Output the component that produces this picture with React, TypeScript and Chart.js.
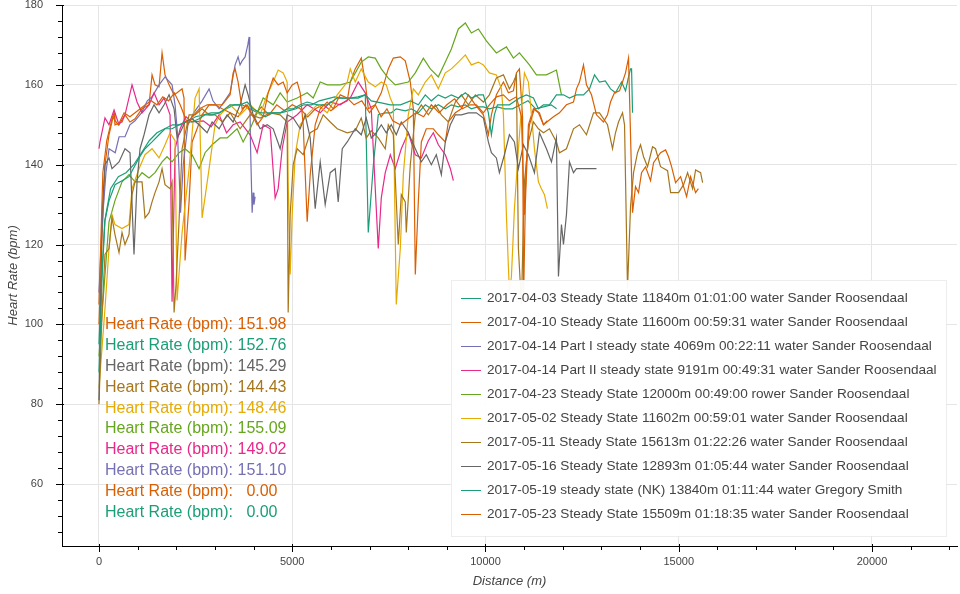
import React, { useEffect, useRef } from 'react';
import { Chart, registerables } from 'chart.js';

Chart.register(...registerables);

// ---------- data ----------
const seriesLabels = [
  '2017-04-03 Steady State 11840m 01:01:00 water Sander Roosendaal',
  '2017-04-10 Steady State 11600m 00:59:31 water Sander Roosendaal',
  '2017-04-14 Part I steady state 4069m 00:22:11 water Sander Roosendaal',
  '2017-04-14 Part II steady state 9191m 00:49:31 water Sander Roosendaal',
  '2017-04-23 Steady State 12000m 00:49:00 rower Sander Roosendaal',
  '2017-05-02 Steady State 11602m 00:59:01 water Sander Roosendaal',
  '2017-05-11 Steady State 15613m 01:22:26 water Sander Roosendaal',
  '2017-05-16 Steady State 12893m 01:05:44 water Sander Roosendaal',
  '2017-05-19 steady state (NK) 13840m 01:11:44 water Gregory Smith',
  '2017-05-23 Steady State 15509m 01:18:35 water Sander Roosendaal',
];

const seriesColors = ['#1b9e77', '#d95f02', '#7570b3', '#e7298a', '#66a61e', '#e6ab02', '#a6761d', '#666666', '#1b9e77', '#d95f02'];

const avgHeartRate = [0.0, 0.0, 151.1, 149.02, 155.09, 148.46, 144.43, 145.29, 152.76, 151.98];

const xMajorTicks = [0, 5000, 10000, 15000, 20000];
const yMajorTicks = [60, 80, 100, 120, 140, 160, 180];

type P = [number, number];

const s1: P[] = [[0,95],[60,110],[150,126],[300,134],[500,137],[700,138],[900,140],[1100,143],[1300,146],[1500,148],[1700,149],[1900,150],[2100,150],[2300,151],[2500,152],[2700,152.5],[2900,153],[3100,153],[3300,154],[3500,155],[3700,155],[3900,154],[4100,153],[4300,152],[4500,153],[4700,153],[4900,153.5],[5100,154],[5300,155],[5500,155],[5700,156],[5900,156.5],[6100,157],[6300,156.7],[6500,156.7],[6700,157],[6890,157.5],[6967,123],[7100,140],[7226,152.5],[7407,153],[7563,153],[7692,154],[7925,153.5],[8081,154],[8262,153],[8443,155],[8599,154],[8780,155],[8961,154],[9117,155],[9300,154.5],[9479,155],[9635,154],[9800,154.5],[9950,154.5],[10100,154],[10300,154.5],[10500,154],[10700,154],[10900,155],[11100,156],[11300,154],[11500,154.5],[11700,155],[11840,154]];

const s2: P[] = [[0,100],[80,122],[155,140],[259,147.5],[389,153],[414,150],[596,150.7],[673,152.5],[803,150.7],[932,151.5],[1114,154],[1295,155],[1373,162.5],[1450,160],[1554,159.5],[1632,168],[1709,162.5],[1813,160],[1943,157.5],[2020,158],[2150,159],[2200,156.7],[2227,116],[2331,130.7],[2409,145.7],[2538,149],[2668,152.5],[2849,155],[3004,155],[3186,154],[3393,153],[3600,152],[3800,155],[4000,152],[4200,154.5],[4400,152.5],[4600,155],[4800,153.5],[5000,155],[5206,154],[5400,152],[5600,154],[5800,155],[6000,153.5],[6200,155],[6423,156],[6501,160.7],[6630,164],[6786,166.7],[6889,160.7],[6967,154],[7148,155],[7304,158],[7485,164],[7615,166.7],[7796,167],[7925,166],[8055,160.7],[8133,154],[8184,112.5],[8262,130.7],[8340,145.7],[8469,149],[8651,149],[8780,147.5],[8961,145.7],[9039,150.7],[9220,153],[9376,154],[9557,157.5],[9738,155],[9946,152.5],[10075,147.5],[10153,152.5],[10282,157.5],[10464,160.7],[10593,158],[10723,158.5],[10800,163],[10878,164],[10960,152],[10985,106],[11030,130],[11111,150],[11241,154],[11370,153],[11500,150],[11600,151]];

const s3: P[] = [[0,108],[80,125],[180,138],[260,144],[420,143],[520,147],[673,147],[800,150],[932,151],[1100,153],[1250,156],[1373,157],[1554,160],[1709,162],[1800,161],[1891,160],[1968,155],[2030,148],[2072,138],[2110,128],[2180,140],[2300,150],[2450,153],[2668,156],[2849,159],[2950,156],[3108,154],[3250,156],[3393,158],[3522,165],[3600,167],[3650,165],[3704,166],[3781,167],[3850,170],[3885,172],[3900,160],[3920,145],[3963,128],[3989,133],[4010,130],[4040,132]];

const s4: P[] = [[0,144],[26,145.7],[155,151.7],[259,150],[389,153.7],[518,150],[673,152.5],[855,160],[984,155.7],[1114,153],[1295,155],[1425,158],[1554,155],[1684,156.7],[1839,152.5],[1891,105.7],[1968,144],[2100,149],[2250,152],[2409,150.7],[2700,151],[2900,149.5],[3108,152.5],[3300,148],[3471,150],[3652,150.7],[3911,147.5],[4092,143],[4248,150],[4429,149],[4558,131.7],[4636,134],[4740,144],[4869,150.7],[5128,152.5],[5387,155],[5724,153],[5983,155.7],[6242,155],[6501,156.7],[6708,160.7],[6889,158],[7045,154],[7226,119],[7304,131.7],[7407,138],[7537,142.5],[7666,139],[7822,144],[8003,148],[8184,142.5],[8340,141.7],[8521,146],[8651,148],[8780,145],[8961,142.5],[9091,139],[9169,136]];

const s5: P[] = [[0,92],[78,102.5],[259,125.7],[414,131],[596,135.7],[777,137.5],[932,135.7],[1114,138],[1295,136.7],[1450,138],[1632,140.7],[1761,142],[1891,140.7],[2072,143],[2227,144],[2409,142.5],[2590,139],[2745,143],[2927,145],[3134,146.7],[3315,146.7],[3574,149],[3730,145.7],[3911,149],[4092,153],[4248,156.7],[4507,155],[4688,158],[4869,155.7],[5128,156.7],[5387,158],[5543,156.7],[5724,160.7],[5905,160],[6242,160],[6501,160.7],[6786,165.7],[6967,167],[7148,166.7],[7304,164],[7485,161.7],[7666,160],[8003,160.7],[8184,163],[8392,166.7],[8573,164],[8780,162],[8961,165.7],[9117,169],[9298,174],[9479,175.5],[9635,173],[9816,174],[10023,171],[10282,168],[10541,169.5],[10723,166.7],[10878,168],[11137,165],[11318,162.5],[11577,162.5],[11836,163.7],[11966,157.5]];

const s6: P[] = [[0,84],[155,104],[259,119],[337,127.5],[414,125],[596,124],[777,125],[855,134],[1036,139],[1191,142.5],[1373,144],[1554,141.7],[1709,145],[1839,148],[1968,146],[2020,106],[2150,123],[2331,139],[2486,156.7],[2590,159],[2668,126.7],[2849,139],[3004,150],[3134,152.5],[3393,155],[3652,152.5],[3911,155],[4170,152.5],[4351,157.5],[4507,160.7],[4636,163.7],[4766,163],[4869,160.7],[4895,135.7],[4947,112.5],[4999,127.5],[5076,142.5],[5206,150],[5387,152.5],[5646,155],[5905,153],[6164,157.5],[6423,160.7],[6501,164],[6630,160.7],[6786,164],[6967,160.7],[7148,159.5],[7304,160.7],[7433,160],[7537,156.7],[7615,155],[7692,105],[7796,119],[7874,137.5],[8003,152.5],[8133,159],[8262,157.5],[8443,160.7],[8599,162.5],[8780,159],[8961,163],[9117,164],[9298,165.7],[9479,167.5],[9635,165],[9816,165.7],[9946,165],[10101,163],[10282,162.5],[10412,159],[10464,152.5],[10541,127.5],[10619,108],[10671,112],[10749,129],[10852,144],[10930,154],[11008,163],[11111,160.7],[11189,152.5],[11267,144],[11370,135.7],[11448,134],[11526,132.5],[11603,129]];

const s7: P[] = [[0,80],[50,95],[78,102.5],[155,117.5],[259,119],[337,126.7],[414,122.5],[518,118],[596,123],[673,120],[777,122.5],[855,132.5],[932,135.7],[1114,135.7],[1191,126.7],[1295,128],[1373,130.7],[1450,133],[1554,135.7],[1632,139],[1709,135],[1839,134],[1891,135.7],[1943,103],[1994,110],[2072,126],[2150,144],[2331,152.5],[2486,152.5],[2668,154],[2849,152.5],[3004,152.5],[3186,150.7],[3393,153],[3652,149],[3911,152.5],[4170,151.7],[4429,153],[4688,152.5],[4869,150.7],[4895,103],[4947,127.5],[5025,140],[5128,144],[5284,142.5],[5465,148],[5646,149],[5802,152.5],[5983,150.7],[6164,149],[6423,148],[6630,148.5],[6786,151.7],[6915,146.7],[7045,148.5],[7226,146.7],[7407,144],[7485,150],[7615,147.5],[7744,120],[7822,132.5],[7925,130.7],[7951,123],[8055,140],[8184,152.5],[8340,155],[8521,152.5],[8702,155],[8858,152.5],[9039,150.7],[9220,155.7],[9376,157.5],[9557,155],[9738,157.5],[9946,155.7],[10101,157.5],[10282,161.7],[10464,162.5],[10619,159],[10723,160.7],[10800,162.5],[10852,119],[10930,105],[11008,135.7],[11111,145.7],[11241,150.7],[11370,149],[11500,148],[11655,149],[11836,145.7],[11914,143],[12095,144],[12277,149],[12432,150],[12613,147.5],[12795,153],[12950,153],[13157,150],[13287,144],[13364,148],[13442,150.7],[13546,153],[13598,150],[13675,109],[13753,129.5],[13831,138],[13934,143],[14012,145],[14090,142],[14193,139.5],[14323,144.5],[14400,144],[14530,139.5],[14711,138.5],[14790,133],[14996,133],[15126,135],[15229,138],[15358,134],[15436,138.7],[15566,138],[15618,135.5]];

const s8: P[] = [[0,81],[26,95],[78,127.5],[155,140],[259,141.7],[337,139],[518,140.7],[673,144],[803,143],[906,117.5],[984,135.7],[1062,144],[1166,147.5],[1295,152.5],[1425,155],[1554,153],[1684,155],[1813,157.5],[1943,154],[2020,146.7],[2098,148],[2227,150.7],[2409,151.5],[2590,150],[2797,148],[2927,150.7],[3108,149],[3315,152.5],[3471,150.7],[3652,155],[3781,160],[3859,157.5],[3989,152.5],[4170,149],[4351,150],[4507,149],[4688,144],[4869,152.5],[5025,151.7],[5206,149],[5335,152.5],[5465,146.7],[5594,129],[5724,140.7],[5853,130],[5983,138],[6112,139],[6190,130.7],[6294,144],[6423,145.7],[6630,149],[6786,147.5],[6915,151.7],[7045,146.7],[7174,148],[7304,150],[7433,148],[7563,150],[7692,147.5],[7822,150.7],[8003,148],[8184,144],[8340,140.7],[8469,142.5],[8599,140],[8728,142.5],[8858,137.5],[8961,145.7],[9091,150],[9220,152.5],[9376,152.5],[9557,153],[9764,153],[9946,151.7],[10075,145.7],[10153,143],[10282,141.7],[10360,138],[10490,142.5],[10619,147.5],[10749,145.7],[10852,139],[10982,145],[11111,142.5],[11267,138],[11396,148],[11577,144],[11707,140.7],[11836,146.7],[11888,112],[11966,125],[12018,120],[12095,127.5],[12173,140.7],[12277,138],[12354,139],[12872,139]];

const s9: P[] = [[0,88],[80,112],[155,126],[260,131],[414,135],[596,136],[777,137],[1036,141.7],[1191,144],[1373,145.7],[1554,147.5],[1709,149],[1891,149],[2072,150],[2227,150.7],[2409,150.7],[2590,151.5],[2745,152.5],[2927,152.5],[3134,153],[3393,155],[3652,155],[3833,155.7],[3989,154],[4170,153],[4429,153],[4688,153],[4869,154],[5025,154],[5206,155],[5387,155.7],[5646,155],[5905,155],[6164,156.7],[6500,156.7],[6708,156.7],[6889,157.5],[7045,156],[7304,155.5],[7537,155],[7800,155],[8055,156],[8262,155],[8443,157.5],[8599,156],[8780,157.5],[8961,156.7],[9117,157.5],[9298,156.7],[9479,158],[9635,156.7],[9816,157.5],[9946,157.5],[10075,153],[10153,147.5],[10230,152.5],[10309,155],[10619,155],[10878,156.7],[11059,157.5],[11241,156.7],[11370,154],[11500,155],[11655,155],[11836,157.5],[12018,157.5],[12173,156.7],[12354,157.5],[12536,157.5],[12691,159],[12821,162.5],[12950,160.7],[13100,161],[13236,159],[13364,158],[13520,160.7],[13624,158.5],[13701,162],[13753,164],[13780,164],[13805,153]];

const s10: P[] = [[0,105],[100,138],[200,146],[350,152],[500,150],[650,153],[800,152],[1000,153.5],[1200,155],[1350,156],[1500,155],[1650,157],[1800,156],[1950,158],[2100,155],[2300,150],[2409,152],[2600,154],[2800,155],[3000,155],[3186,155],[3393,157.5],[3471,163],[3522,164],[3600,160.7],[3704,154],[3833,155],[3963,152.5],[4092,150],[4248,152],[4377,158],[4507,161.7],[4636,160],[4766,160.7],[4869,158],[4999,160],[5128,160.7],[5206,158],[5284,150],[5387,125.7],[5465,137.5],[5594,150],[5724,154],[5905,155.7],[6061,154],[6242,157.5],[6423,156.7],[6600,155],[6800,156],[7000,153],[7150,155],[7300,152],[7450,154],[7600,151],[7800,150],[8000,151.5],[8200,153],[8400,152],[8600,155],[8800,153],[9000,155],[9200,156.5],[9400,154],[9600,155],[9764,155],[9946,153],[10101,155],[10282,157],[10464,157.5],[10619,156],[10800,157],[10930,152],[11008,127.5],[11060,140.7],[11137,150],[11267,154],[11396,153],[11500,150],[11629,151],[11759,152],[11914,153],[12095,155],[12277,155.7],[12354,159],[12432,160.7],[12536,165],[12613,160],[12743,157.5],[12872,152.5],[13053,150.7],[13157,152.5],[13235,155.7],[13338,158],[13468,158.5],[13546,160.7],[13623,163],[13701,166.7],[13805,128],[13882,134.5],[13960,133],[14038,138],[14142,139.5],[14271,136],[14349,140.5],[14530,143],[14660,143.7],[14737,142],[14815,139.5],[14918,135.5],[15048,137],[15126,134.5],[15204,132],[15307,137],[15436,133],[15509,134]];

const seriesData: P[][] = [s1, s2, s3, s4, s5, s6, s7, s8, s9, s10];

// ---------- styling ----------
const FONT = "'Liberation Sans', Arial, Helvetica, sans-serif";
const X_MIN = -957;
const X_MAX = 22200;
const Y_MIN = 44.5;
const Y_MAX = 180;

const tickMarksPlugin = {
  id: 'tickMarks',
  afterDraw(chart: any) {
    const { ctx, chartArea } = chart;
    const xs = chart.scales.x;
    const ys = chart.scales.y;
    ctx.save();
    ctx.strokeStyle = '#000';
    ctx.lineWidth = 1;
    ctx.beginPath();
    for (const t of xs.ticks) {
      const px = Math.round(xs.getPixelForValue(t.value)) + 0.5;
      const major = xMajorTicks.includes(t.value);
      const b = chartArea.bottom;
      ctx.moveTo(px, major ? b - 2 : b);
      ctx.lineTo(px, major ? b + 6 : b + 4);
    }
    for (const t of ys.ticks) {
      const py = Math.round(ys.getPixelForValue(t.value)) + 0.5;
      const major = yMajorTicks.includes(t.value);
      const l = chartArea.left;
      ctx.moveTo(major ? l + 2 : l, py);
      ctx.lineTo(major ? l - 6 : l - 4, py);
    }
    ctx.stroke();
    ctx.restore();
  },
};

const overlayPlugin = {
  id: 'overlay',
  afterDraw(chart: any) {
    const { ctx, chartArea } = chart;
    ctx.save();
    // average labels (reverse series order)
    ctx.font = `16px ${FONT}`;
    ctx.textBaseline = 'middle';
    ctx.textAlign = 'left';
    const n = avgHeartRate.length;
    for (let k = 0; k < n; k++) {
      const i = n - 1 - k;
      ctx.fillStyle = seriesColors[i];
      const txt = 'Heart Rate (bpm): ' + avgHeartRate[i].toFixed(2).padStart(6, ' ');
      ctx.fillText(txt, chartArea.left + 43, chartArea.top + 320 + k * 20.8);
    }
    // legend
    ctx.font = `13.6px ${FONT}`;
    const maxW = Math.max(...seriesLabels.map((l) => ctx.measureText(l).width));
    const rowH = 24;
    const boxW = 10 + 20 + 5 + maxW + 10;
    const boxH = 16 + rowH * seriesLabels.length;
    const right = chartArea.right - 11;
    const bottom = chartArea.bottom - 10;
    const left = Math.round(right - boxW);
    const top = Math.round(bottom - boxH);
    ctx.fillStyle = 'rgba(255,255,255,0.95)';
    ctx.fillRect(left, top, right - left, bottom - top);
    ctx.strokeStyle = 'rgba(229,229,229,0.7)';
    ctx.lineWidth = 1;
    ctx.strokeRect(left + 0.5, top + 0.5, right - left, bottom - top);
    seriesLabels.forEach((label, i) => {
      const y = top + 18 + i * rowH;
      ctx.strokeStyle = seriesColors[i];
      ctx.lineWidth = 1;
      ctx.beginPath();
      ctx.moveTo(left + 10, Math.round(y) + 0.5);
      ctx.lineTo(left + 30, Math.round(y) + 0.5);
      ctx.stroke();
      ctx.fillStyle = '#444444';
      ctx.fillText(label, left + 36, y);
    });
    ctx.restore();
  },
};

export default function App() {
  const canvasRef = useRef<HTMLCanvasElement | null>(null);

  useEffect(() => {
    if (!canvasRef.current) return;
    const n = seriesData.length;
    const chart = new Chart(canvasRef.current, {
      type: 'line',
      data: {
        datasets: seriesData.map((s, i) => ({
          label: seriesLabels[i],
          data: s.map(([x, y]) => ({ x, y })),
          borderColor: seriesColors[i],
          backgroundColor: seriesColors[i],
          borderWidth: 1.2,
          pointRadius: 0,
          tension: 0,
          fill: false,
          order: n - i,
        })),
      },
      options: {
        animation: false,
        responsive: false,
        maintainAspectRatio: false,
        events: [],
        layout: { padding: { top: 5, right: 3, left: 0, bottom: 0 } },
        plugins: { legend: { display: false }, tooltip: { enabled: false } },
        scales: {
          x: {
            type: 'linear',
            min: X_MIN,
            max: X_MAX,
            afterFit: (s: any) => {
              s.height = 48;
              s.paddingLeft = 0;
              s.paddingRight = 0;
            },
            afterBuildTicks: (s: any) => {
              const t = [];
              for (let v = Math.ceil(X_MIN / 1000) * 1000; v <= X_MAX; v += 1000) t.push({ value: v === 0 ? 0 : v });
              s.ticks = t;
            },
            grid: {
              drawTicks: false,
              color: (c: any) => (c.tick && xMajorTicks.includes(c.tick.value) ? '#e5e5e5' : 'rgba(0,0,0,0)'),
              lineWidth: 1,
            },
            border: { display: true, color: '#000', width: 1 },
            ticks: {
              autoSkip: false,
              maxRotation: 0,
              minRotation: 0,
              padding: 9,
              color: '#444444',
              font: { family: FONT, size: 11 },
              callback: (v: any) => (xMajorTicks.includes(v) ? String(v) : ''),
            },
            title: {
              display: true,
              text: 'Distance (m)',
              color: '#444444',
              font: { family: FONT, size: 13, style: 'italic' },
              padding: { top: 0, bottom: 5 },
            },
          },
          y: {
            type: 'linear',
            min: Y_MIN,
            max: Y_MAX,
            afterFit: (s: any) => {
              s.width = 62;
              s.paddingTop = 0;
              s.paddingBottom = 0;
            },
            afterBuildTicks: (s: any) => {
              const t = [];
              for (let v = Math.ceil(Y_MIN / 4) * 4; v <= Y_MAX; v += 4) t.push({ value: v });
              s.ticks = t;
            },
            grid: {
              drawTicks: false,
              color: (c: any) => (c.tick && yMajorTicks.includes(c.tick.value) ? '#e5e5e5' : 'rgba(0,0,0,0)'),
              lineWidth: 1,
            },
            border: { display: true, color: '#000', width: 1 },
            ticks: {
              autoSkip: false,
              padding: 19,
              color: '#444444',
              font: { family: FONT, size: 11 },
              callback: (v: any) => (yMajorTicks.includes(v) ? String(v) : ''),
            },
            title: {
              display: true,
              text: 'Heart Rate (bpm)',
              color: '#444444',
              font: { family: FONT, size: 13, style: 'italic' },
              padding: { top: 6, bottom: 0 },
            },
          },
        },
      },
      plugins: [tickMarksPlugin, overlayPlugin],
    } as any);
    return () => chart.destroy();
  }, []);

  return (
    <div style={{ position: 'absolute', left: 0, top: 0, width: 960, height: 594, background: '#ffffff' }}>
      <canvas ref={canvasRef} width={960} height={594} style={{ display: 'block' }} />
    </div>
  );
}
